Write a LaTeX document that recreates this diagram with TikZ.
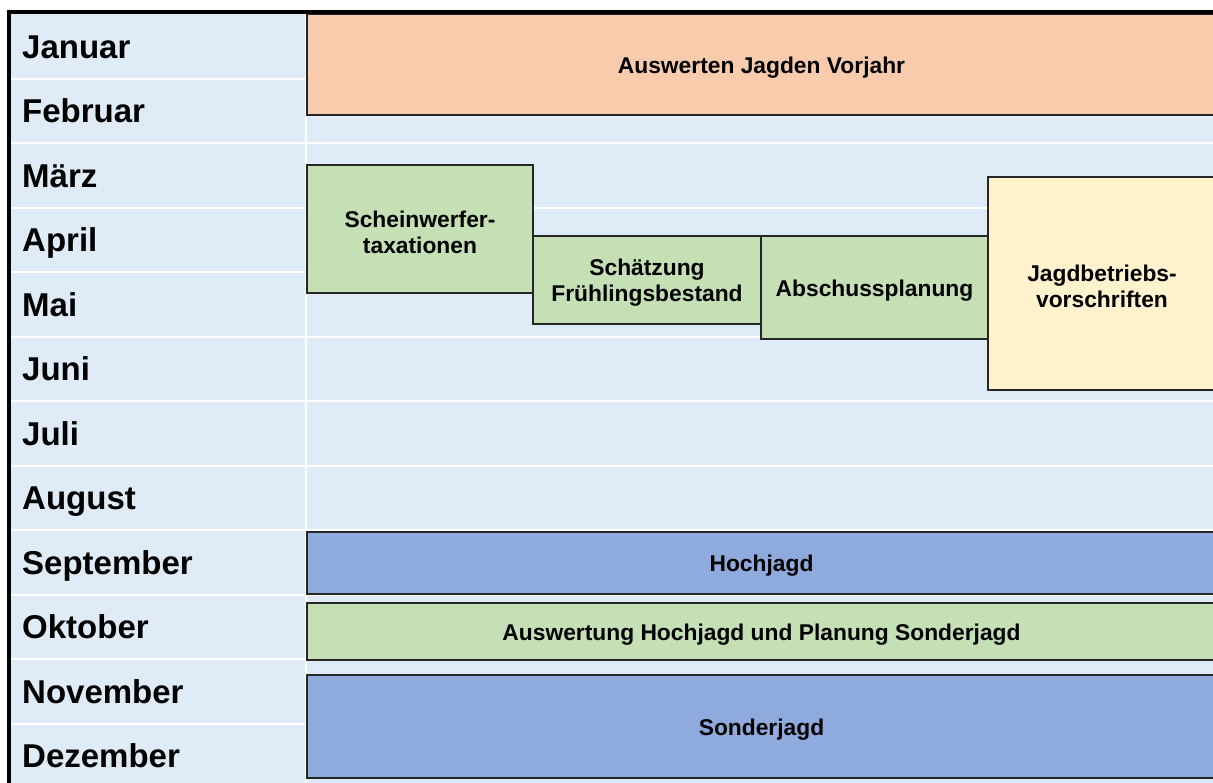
\documentclass[tikz,border=0pt]{standalone}
\usepackage{fontspec}
\setmainfont{Liberation Sans}
\definecolor{bgblue}{HTML}{DFECF7}
\definecolor{boxorange}{HTML}{F8CBAD}
\definecolor{boxgreen}{HTML}{C5E0B4}
\definecolor{boxblue}{HTML}{8FAADC}
\definecolor{boxyellow}{HTML}{FFF2CC}
\begin{document}
\begin{tikzpicture}[x=1pt,y=-1pt,
  month/.style={anchor=base west, font=\fontsize{33}{39}\selectfont\bfseries, inner sep=0pt},
  box/.style={draw=black!85, line width=1.3pt, anchor=north west, inner sep=0pt, outer sep=0pt},
  boxtext/.style={align=center, inner sep=0pt, yshift=-3pt, font=\fontsize{22.8}{26}\selectfont\bfseries},
  sep/.style={white, line width=2pt},
  frame/.style={black, line width=4pt}
]
\useasboundingbox (0,0) rectangle (1213,782);
\clip (0,0) rectangle (1213,782);
\fill[bgblue] (9,12) rectangle (1216,790);
\foreach \i in {1,...,11} {
  \draw[sep] (9,{14+64.5*\i}) -- (1216,{14+64.5*\i});
}
\draw[sep] (306,14) -- (306,790);
% month labels
\foreach \m [count=\i from 0] in {Januar,Februar,März,April,Mai,Juni,Juli,August,September,Oktober,November,Dezember} {
  \node[month] (m\i) at (22,{58+64.5*\i}) {\m};
}
% activity boxes
\node[box, fill=boxorange, minimum width=909pt, minimum height=101pt] (vorjahr) at (307,14) {};
\node[box, fill=boxgreen, minimum width=226pt, minimum height=128pt] (schein) at (307,165) {};
\node[box, fill=boxgreen, minimum width=228pt, minimum height=88pt] (schaetz) at (533,236) {};
\node[box, fill=boxgreen, minimum width=227pt, minimum height=103pt] (absch) at (761,236) {};
\node[box, fill=boxyellow, minimum width=228pt, minimum height=213pt] (jagdb) at (988,177) {};
\node[box, fill=boxblue, minimum width=909pt, minimum height=62pt] (hoch) at (307,532) {};
\node[box, fill=boxgreen, minimum width=909pt, minimum height=57pt] (ausw) at (307,603) {};
\node[box, fill=boxblue, minimum width=909pt, minimum height=103pt] (sonder) at (307,675) {};
% box texts
\node[boxtext] (vorjahr-t) at (vorjahr.center) {Auswerten Jagden Vorjahr};
\node[boxtext] (schein-t) at (schein.center) {Scheinwerfer-\\taxationen};
\node[boxtext] (schaetz-t) at (schaetz.center) {Schätzung\\Frühlingsbestand};
\node[boxtext] (absch-t) at (absch.center) {Abschussplanung};
\node[boxtext] (jagdb-t) at (jagdb.center) {Jagdbetriebs-\\vorschriften};
\node[boxtext] (hoch-t) at (hoch.center) {Hochjagd};
\node[boxtext] (ausw-t) at (ausw.center) {Auswertung Hochjagd und Planung Sonderjagd};
\node[boxtext] (sonder-t) at (sonder.center) {Sonderjagd};
% outer frame
\draw[frame] (9,790) -- (9,12) -- (1216,12);
\end{tikzpicture}
\end{document}
